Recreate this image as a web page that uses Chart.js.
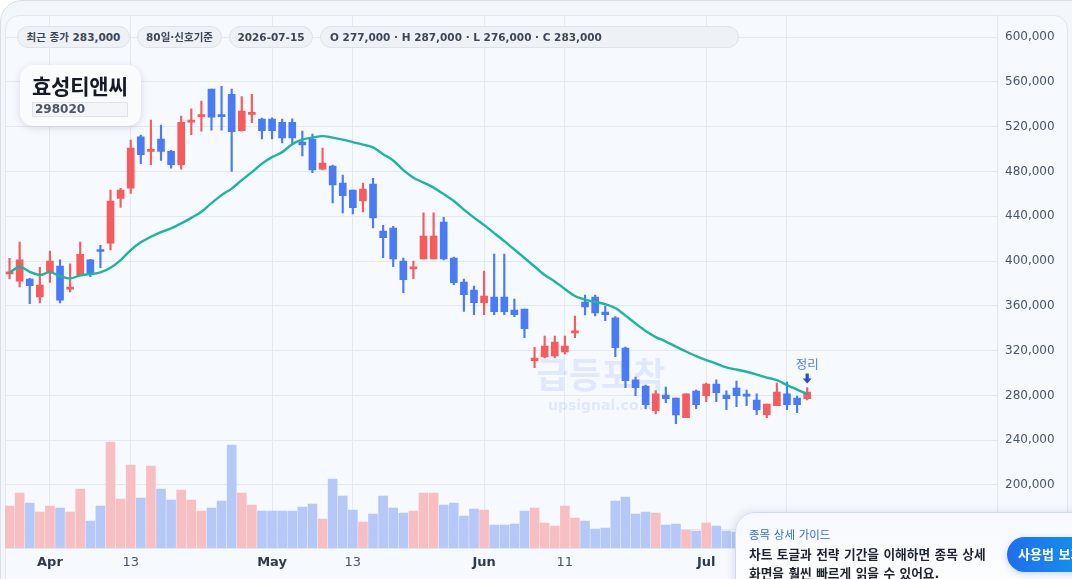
<!DOCTYPE html>
<html lang="ko">
<head>
<meta charset="utf-8">
<script src="https://cdn.jsdelivr.net/npm/chart.js@4.4.1/dist/chart.umd.min.js"></script>
<style>
  html, body { margin: 0; padding: 0; }
  body {
    width: 1072px; height: 579px; overflow: hidden; position: relative;
    background: #ffffff;
    font-family: "DejaVu Sans", "Noto Sans CJK KR", sans-serif;
  }
  .frame {
    position: absolute; left: 0; top: 0; width: 1100px; height: 620px;
    box-sizing: border-box; border: 1px solid #d8dfe9; border-radius: 22px;
    background: #f3f6fb;
  }
  .panel {
    position: absolute; left: 5px; top: 15px; width: 1063px; height: 620px;
    box-sizing: border-box; border: 1px solid #e1e7ef; border-radius: 14px;
    background: #f6f9fe;
  }
  #chart { position: absolute; left: 0; top: 0; }
  .badge {
    position: absolute; top: 26px; height: 22px; box-sizing: border-box;
    border: 1px solid #dce2ea; border-radius: 11px; background: #eef2f7;
    color: #3c4657; font-weight: bold; font-size: 10.5px; line-height: 20px;
    text-align: center; white-space: nowrap;
  }
  .namebox {
    position: absolute; left: 20px; top: 65px; width: 121px; height: 61px;
    box-sizing: border-box; border-radius: 14px; background: #fafbfd;
    box-shadow: 0 2px 9px rgba(15, 23, 42, 0.13);
  }
  .namebox .nm {
    position: absolute; left: 12px; top: 5px; font-family: "Noto Sans CJK KR", sans-serif;
    font-weight: bold; font-size: 21px; color: #141a26; letter-spacing: -0.2px;
  }
  .namebox .cd {
    position: absolute; left: 12px; top: 37px; width: 96px; height: 15px; box-sizing: border-box;
    border: 1px solid #dfe3e9; background: #f3f5f8; color: #4b5563;
    font-weight: bold; font-size: 12px; line-height: 13px; padding-left: 2px;
  }
  .guide {
    position: absolute; left: 735px; top: 512px; width: 380px; height: 100px;
    box-sizing: border-box; border: 1px solid #cbd9f3; border-radius: 20px;
    background: linear-gradient(180deg, #f6f9ff 0%, #ffffff 100%);
    box-shadow: -2px -1px 8px rgba(30, 41, 59, 0.10);
  }
  .g1 { position: absolute; left: 749px; top: 526px; font-size: 11.5px; color: #2f6fe0; white-space: nowrap; }
  .g2, .g3 { position: absolute; left: 749px; font-size: 12.7px; font-weight: bold; color: #1c2230; white-space: nowrap; }
  .g2 { top: 544px; }
  .g3 { top: 563px; }
  .btn {
    position: absolute; left: 1007px; top: 537px; width: 110px; height: 35px; box-sizing: border-box;
    border-radius: 18px; background: linear-gradient(90deg, #1f6ff0 0%, #109fe8 100%);
    color: #ffffff; font-weight: bold; font-size: 13px; line-height: 35px; padding-left: 11px;
    white-space: nowrap; box-shadow: 0 2px 6px rgba(37, 99, 235, 0.25);
  }
</style>
</head>
<body>
<div class="frame"></div>
<div class="panel"></div>
<canvas id="chart" width="1072" height="579"></canvas>

<div class="badge" style="left:17px;width:113px">최근 종가 283,000</div>
<div class="badge" style="left:137px;width:85px">80일·신호기준</div>
<div class="badge" style="left:229px;width:84px">2026-07-15</div>
<div class="badge" style="left:320px;width:419px;text-align:left;padding-left:9px">O 277,000 · H 287,000 · L 276,000 · C 283,000</div>

<div class="namebox"><div class="nm">효성티앤씨</div><div class="cd">298020</div></div>

<div class="guide"></div>
<div class="g1">종목 상세 가이드</div>
<div class="g2">차트 토글과 전략 기간을 이해하면 종목 상세</div>
<div class="g3">화면을 훨씬 빠르게 읽을 수 있어요.</div>
<div class="btn">사용법 보기</div>

<script>
// 효성티앤씨 (298020) 일봉 80개, 2026-03-26 ~ 2026-07-15
const opens = [
  388500, 382000, 384000, 368000, 389500, 395500, 375000, 387500, 401000, 409500,
  416000, 456000, 465000, 511000, 498000, 509000, 498000, 486000, 524000, 529000,
  553600, 530000, 549000, 516400, 531000, 526800, 526800, 524000, 524000, 506300,
  509000, 482000, 484800, 469600, 463400, 453800, 468800, 426800, 429500, 400000,
  393000, 402000, 402000, 434800, 402700, 381300, 374000, 362800, 367900, 367900,
  356300, 357100, 311000, 314300, 315200, 318800, 335800, 363400, 367900, 354500,
  349400, 322300, 293800, 288400, 266400, 280400, 277600, 260100, 283900, 279800,
  290200, 280400, 286600, 280500, 275900, 262800, 270800, 281300, 277700, 277000
];
const highs = [
  402500, 417000, 384500, 394500, 409000, 401000, 397500, 417000, 401500, 414000,
  463500, 465000, 508000, 512500, 526000, 521500, 499000, 529500, 536000, 543000,
  553600, 556000, 553600, 547000, 549000, 527700, 528000, 526800, 527000, 516000,
  513400, 501000, 485700, 476800, 463400, 469600, 474000, 432000, 431000, 402700,
  400000, 443000, 443000, 439000, 403600, 384000, 377700, 391000, 406200, 406200,
  366000, 357100, 323000, 333000, 333000, 333000, 350900, 369600, 369600, 359800,
  350300, 323200, 296400, 289300, 284200, 287500, 277600, 281300, 284800, 291100,
  293800, 284000, 292900, 284800, 281300, 272300, 291000, 292000, 279500, 287000
];
const lows = [
  384000, 377000, 362000, 362500, 381000, 362500, 372500, 387000, 386000, 394000,
  410000, 448000, 460500, 487000, 486000, 490000, 483000, 482000, 513000, 516000,
  517000, 517000, 480000, 516000, 523500, 509000, 509000, 505600, 505000, 494000,
  479000, 481500, 452000, 443000, 442000, 444000, 429700, 403000, 395000, 371700,
  384200, 402000, 402000, 401000, 378800, 355000, 352100, 352100, 352100, 352100,
  350300, 331500, 304700, 313400, 313400, 317000, 331500, 351800, 350900, 346700,
  314600, 286900, 279700, 268100, 263400, 273500, 254700, 260000, 268100, 274400,
  274300, 267200, 269900, 270800, 262800, 260100, 270800, 267200, 264600, 276000
];
const closes = [
  389500, 401000, 378000, 378500, 400000, 365000, 376500, 406000, 388500, 408500,
  453500, 463500, 501000, 495000, 499500, 498000, 486000, 524000, 526000, 530500,
  528600, 529000, 515500, 534000, 532000, 516400, 516400, 510000, 510000, 503800,
  481500, 487500, 468000, 458300, 447600, 464300, 438600, 420800, 402000, 383300,
  394500, 422300, 422300, 402000, 380600, 370000, 362800, 368800, 354700, 354700,
  352100, 339600, 313400, 324000, 327700, 324000, 337300, 359000, 353600, 352100,
  322600, 293100, 286900, 271700, 281300, 277000, 262500, 281300, 271700, 290200,
  282400, 277000, 279700, 279300, 267200, 272300, 283000, 271700, 271700, 283000
];
// 거래량 (천주)
const volumes = [
  420, 550, 450, 360, 420, 400, 360, 590, 270, 420,
  1060, 490, 830, 500, 820, 590, 480, 580, 480, 370,
  400, 470, 1030, 550, 430, 370, 370, 370, 370, 410,
  440, 290, 690, 520, 380, 260, 340, 520, 400, 350,
  370, 550, 550, 430, 450, 320, 390, 380, 230, 230,
  240, 370, 400, 250, 220, 420, 300, 270, 190, 200,
  470, 510, 340, 360, 350, 230, 240, 180, 170, 250,
  220, 170, 160, 180, 150, 200, 220, 190, 170, 160
];
// 이동평균선
const maLine = [
  389500, 394900, 390400, 387500, 390100, 386600, 384500, 387200, 388400, 389900,
  394000, 400900, 409800, 416700, 421700, 425900, 429200, 433600, 438600, 444000,
  451800, 458900, 464700, 472300, 479400, 487000, 492800, 497300, 504400, 508500,
  510300, 511600, 510300, 508500, 506200, 504000, 501500, 495500, 489800, 481200,
  474500, 470100, 465600, 459800, 453600, 446000, 438800, 432100, 425000, 417800,
  410300, 402700, 395100, 387500, 381800, 375000, 368800, 365600, 363400, 361600,
  358000, 351300, 344200, 337500, 332100, 328100, 323600, 319200, 315100, 311600,
  308400, 305000, 303100, 301100, 298600, 295900, 293700, 289200, 285200, 281200
];

const tickIdx  = [4, 12, 26, 34, 47, 55, 69, 77];
const tickText = ['Apr', '13', 'May', '13', 'Jun', '11', 'Jul', '13'];
const monthNames = ['Apr', 'May', 'Jun', 'Jul'];
const priceTicks = [160000, 200000, 240000, 280000, 320000, 360000, 400000, 440000, 480000, 520000, 560000, 600000];

const UP = '#f65b5d', DOWN = '#4a7bf7';
const UP_VOL = '#f8bfc2', DOWN_VOL = '#b6c8f7';

const idx = opens.map((_, i) => i);
const isUp = i => closes[i] >= opens[i];
const labelAt = v => tickText[tickIdx.indexOf(v)];
const isMonthTick = c => !!(c && c.tick) && monthNames.includes(labelAt(c.tick.value));

// 워터마크 + 마지막 봉 "정리" 표시
const overlayPlugin = {
  id: 'overlay',
  beforeDatasetsDraw(chart) {
    const { ctx } = chart;
    ctx.save();
    ctx.fillStyle = 'rgba(92, 140, 232, 0.15)';
    ctx.textAlign = 'center';
    ctx.textBaseline = 'middle';
    ctx.font = 'bold 35px "Noto Sans CJK KR"';
    ctx.fillText('급등포착', 601, 375);
    ctx.font = 'bold 14px "DejaVu Sans"';
    ctx.fillText('upsignal.co.kr', 604, 406);
    ctx.restore();
  },
  afterDatasetsDraw(chart) {
    const { ctx, scales } = chart;
    const last = opens.length - 1;
    const x = scales.x.getPixelForValue(last);
    const yTop = scales.y.getPixelForValue(highs[last]);
    ctx.save();
    ctx.fillStyle = '#4a80e6';
    ctx.textAlign = 'center';
    ctx.textBaseline = 'middle';
    ctx.font = '12.5px "Noto Sans CJK KR"';
    ctx.fillText('정리', x, yTop - 23);
    // 아래 화살표
    const ay = yTop - 4;
    ctx.fillStyle = '#1f4fd1';
    ctx.beginPath();
    ctx.moveTo(x - 1.6, ay - 10);
    ctx.lineTo(x + 1.6, ay - 10);
    ctx.lineTo(x + 1.6, ay - 5);
    ctx.lineTo(x + 4.5, ay - 5);
    ctx.lineTo(x, ay);
    ctx.lineTo(x - 4.5, ay - 5);
    ctx.lineTo(x - 1.6, ay - 5);
    ctx.closePath();
    ctx.fill();
    ctx.restore();
  }
};

const ctx = document.getElementById('chart').getContext('2d');
new Chart(ctx, {
  type: 'bar',
  data: {
    datasets: [
      {
        type: 'line', label: 'MA', yAxisID: 'y',
        data: idx.map(i => ({ x: i, y: maLine[i] })),
        borderColor: '#1cb59d', borderWidth: 2.4, pointRadius: 0, tension: 0.3,
        order: 0
      },
      {
        label: '몸통', yAxisID: 'y',
        data: idx.map(i => ({ x: i, y: [opens[i], closes[i]] })),
        backgroundColor: idx.map(i => isUp(i) ? UP : DOWN),
        barThickness: 7, minBarLength: 2, grouped: false, order: 1
      },
      {
        label: '꼬리', yAxisID: 'y',
        data: idx.map(i => ({ x: i, y: [lows[i], highs[i]] })),
        backgroundColor: idx.map(i => isUp(i) ? UP : DOWN),
        barThickness: 1.5, grouped: false, order: 2
      },
      {
        label: '거래량', yAxisID: 'yv',
        data: idx.map(i => ({ x: i, y: volumes[i] })),
        backgroundColor: idx.map(i => isUp(i) ? UP_VOL : DOWN_VOL),
        barThickness: 9, grouped: false, order: 3
      }
    ]
  },
  options: {
    responsive: false, animation: false,
    layout: { padding: { left: 5, top: 15, right: 4, bottom: 0 } },
    plugins: { legend: { display: false }, tooltip: { enabled: false } },
    scales: {
      x: {
        type: 'linear', min: -0.45, max: 97.8, offset: false,
        afterBuildTicks: ax => { ax.ticks = tickIdx.map(v => ({ value: v })); },
        afterFit: ax => { ax.height = 31; },
        ticks: {
          autoSkip: false, maxRotation: 0, padding: 7,
          callback: v => labelAt(v),
          color: c => isMonthTick(c) ? '#2f3a4c' : '#4a5568',
          font: c => ({ family: '"DejaVu Sans"', size: 13, weight: isMonthTick(c) ? 'bold' : 'normal' })
        },
        grid: { color: '#e4e9f0', drawTicks: false, offset: false },
        border: { color: '#e2e7ef' }
      },
      y: {
        position: 'right', min: 143700, max: 619600,
        afterBuildTicks: ax => { ax.ticks = priceTicks.map(v => ({ value: v })); },
        afterFit: ax => { ax.width = 71; },
        ticks: {
          padding: 8, color: '#4a5568',
          font: { family: '"DejaVu Sans"', size: 12 },
          callback: v => v.toLocaleString('en-US')
        },
        grid: { color: '#e4e9f0', drawTicks: false },
        border: { color: '#dfe5ee' }
      },
      yv: { display: false, min: 0, max: 5330 }
    }
  },
  plugins: [overlayPlugin]
});
</script>
</body>
</html>
